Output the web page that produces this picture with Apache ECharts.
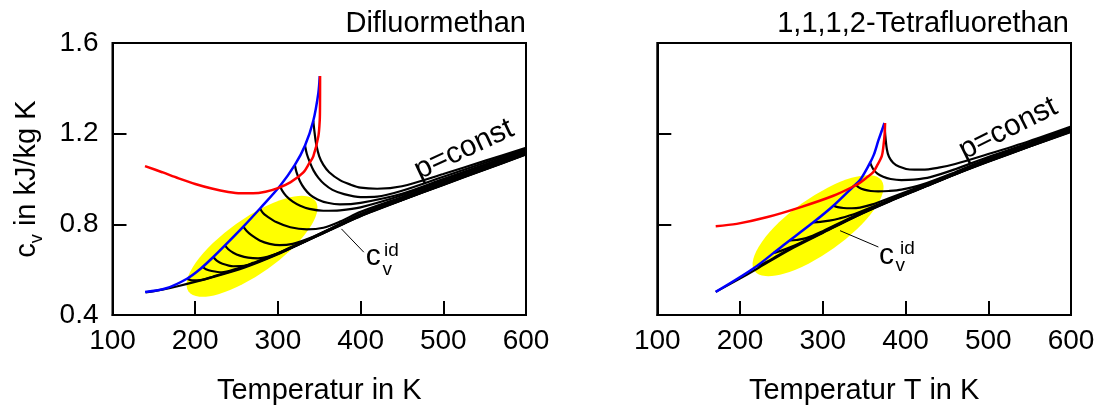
<!DOCTYPE html>
<html>
<head>
<meta charset="utf-8">
<script src="https://cdn.jsdelivr.net/npm/echarts@6/dist/echarts.min.js"></script>
<style>
html, body { margin: 0; padding: 0; background: #fff; }
#chart { width: 1104px; height: 410px; }
</style>
</head>
<body>
<div id="chart"></div>
<script>
// axes
var tempTicks = [100, 200, 300, 400, 500, 600];
var cvTicks = [0.4, 0.8, 1.2, 1.6];

// Difluormethan (left)
var difBlue = [[139.4,0.501],[165,0.518],[190,0.56],[206.5,0.604],[221.9,0.656],[236,0.707],[258.2,0.79],[278.4,0.87],[302.5,0.969],[320.5,1.062],[332.8,1.148],[342.8,1.257],[348.9,1.379],[350.6,1.454]];
var difRed = [[139.3,1.057],[160,1.03],[180,1.003],[200,0.978],[220,0.958],[240,0.943],[255,0.937],[270,0.937],[285,0.944],[300,0.96],[315,0.985],[330.5,1.028],[338,1.07],[342.8,1.1],[348.9,1.188],[350.6,1.26],[350.9,1.32],[351,1.454]];
var difIdeal = [[140,0.5],[160,0.512],[180,0.528],[220,0.566],[260,0.61],[300,0.668],[340,0.736],[380,0.803],[400,0.836],[450,0.906],[500,0.974],[550,1.041],[600,1.108]];
var difP343 = [[342.8,1.257],[344.5,1.2],[346.5,1.15],[350,1.1],[355,1.062],[362,1.03],[375,0.995],[388,0.975],[400,0.962],[420,0.957],[450,0.968],[500,1.022],[550,1.08],[600,1.138]];
var difP333 = [[332.8,1.148],[335,1.11],[338.8,1.072],[343,1.038],[349,1.005],[356,0.978],[366,0.952],[380,0.933],[400,0.92],[420,0.922],[450,0.948],[500,1.01],[550,1.072],[600,1.133]];
var difP320 = [[320.5,1.062],[322.5,1.03],[326.7,0.99],[332,0.958],[339,0.93],[348,0.91],[360,0.895],[375,0.888],[400,0.895],[450,0.935],[500,1.0],[550,1.064],[600,1.128]];
var difP302 = [[302.5,0.969],[305,0.95],[310,0.925],[318,0.9],[327,0.882],[338,0.868],[355,0.86],[375,0.862],[400,0.875],[450,0.928],[500,0.994],[550,1.059],[600,1.124]];
var difP278 = [[278.4,0.87],[282,0.85],[287,0.835],[298,0.81],[315,0.787],[335,0.778],[355,0.785],[375,0.812],[400,0.855],[450,0.92],[500,0.987],[550,1.053],[600,1.119]];
var difP258 = [[258.2,0.79],[262,0.772],[268,0.752],[278,0.729],[290,0.714],[302,0.708],[318,0.714],[338,0.738],[362,0.778],[400,0.846],[450,0.915],[500,0.983],[550,1.05],[600,1.116]];
var difP236 = [[236,0.707],[240,0.69],[246,0.675],[254,0.662],[264,0.653],[276,0.65],[292,0.662],[312,0.693],[340,0.74],[400,0.842],[450,0.912],[500,0.98],[550,1.047],[600,1.114]];
var difP222 = [[221.9,0.656],[226,0.64],[233,0.626],[246,0.615],[262,0.619],[282,0.644],[310,0.686],[340,0.738],[400,0.84],[450,0.91],[500,0.978],[550,1.045],[600,1.112]];
var difP209 = [[209,0.612],[213,0.602],[220,0.594],[232,0.588],[250,0.604],[270,0.63],[300,0.672],[340,0.737],[400,0.838],[450,0.908],[500,0.976],[550,1.043],[600,1.11]];
var difP190 = [[190,0.56],[196,0.553],[206,0.554],[222,0.57],[250,0.601],[280,0.64],[320,0.703],[360,0.77],[400,0.837],[450,0.907],[500,0.975],[550,1.042],[600,1.109]];
var difIsobars = [difIdeal, difP190, difP209, difP222, difP236, difP258, difP278, difP302, difP320, difP333, difP343];

// 1,1,1,2-Tetrafluorethan (right)
var tetBlue = [[170.6,0.502],[216,0.605],[252,0.707],[288.6,0.809],[312.8,0.882],[337,0.967],[345,0.995],[351,1.03],[357.2,1.072],[362,1.11],[367.2,1.17],[371.5,1.215],[374.5,1.247]];
var tetRed = [[170.6,0.792],[196,0.802],[232,0.831],[272.6,0.875],[312.8,0.926],[337,0.967],[345,0.984],[353,1.006],[361,1.03],[365.3,1.057],[371.3,1.101],[373.3,1.145],[374.8,1.2],[375.3,1.247]];
var tetIdeal = [[170.6,0.502],[196,0.553],[220,0.603],[260,0.688],[300,0.762],[340,0.835],[380,0.9],[420,0.96],[460,1.02],[500,1.076],[550,1.143],[600,1.208]];
var tetP375 = [[374.8,1.24],[375.6,1.19],[377.5,1.13],[380,1.098],[385,1.072],[392,1.055],[405,1.042],[420,1.041],[440,1.05],[460,1.066],[500,1.11],[550,1.168],[600,1.232]];
var tetP357 = [[357.2,1.072],[361,1.043],[366,1.024],[373,1.01],[382,1.0],[395,0.995],[410,0.997],[430,1.008],[460,1.043],[500,1.097],[550,1.16],[600,1.228]];
var tetP340 = [[340,0.975],[344,0.962],[350,0.953],[358,0.947],[367,0.945],[380,0.947],[395,0.953],[420,0.975],[460,1.03],[500,1.09],[550,1.155],[600,1.224]];
var tetP313 = [[312.8,0.882],[318,0.876],[325,0.872],[335,0.871],[345,0.874],[360,0.888],[380,0.915],[420,0.97],[460,1.027],[500,1.085],[550,1.152],[600,1.22]];
var tetP290 = [[288.6,0.809],[297,0.811],[308,0.816],[320,0.826],[340,0.848],[380,0.907],[420,0.965],[460,1.024],[500,1.081],[550,1.148],[600,1.216]];
var tetP260 = [[260,0.729],[268,0.731],[280,0.739],[300,0.77],[340,0.84],[380,0.903],[420,0.963],[460,1.022],[500,1.079],[550,1.146],[600,1.213]];
var tetP240 = [[240,0.673],[250,0.684],[270,0.713],[300,0.766],[340,0.838],[380,0.902],[420,0.962],[460,1.021],[500,1.078],[550,1.145],[600,1.211]];
var tetP220 = [[220,0.614],[235,0.64],[260,0.692],[300,0.764],[340,0.836],[380,0.901],[420,0.961],[460,1.021],[500,1.077],[550,1.144],[600,1.21]];
var tetIsobars = [tetIdeal, tetP220, tetP240, tetP260, tetP290, tetP313, tetP340, tetP357, tetP375];

// annotation anchors (data space)
var difSpot = [268.7, 0.703];
var tetSpot = [294.3, 0.794];
var difLeader = [[376.8, 0.78], [403.9, 0.677]];
var tetLeader = [[320.9, 0.772], [367.2, 0.7]];
var difPConst = [525, 1.13];
var tetPConst = [524, 1.222];

var FONT = 'Liberation Sans, Arial, Helvetica, sans-serif';
var chart = echarts.init(document.getElementById('chart'));

function curve(data, idx, color, width, z) {
  return {
    type: 'line', xAxisIndex: idx, yAxisIndex: idx, data: data,
    symbol: 'none', smooth: 0.3, silent: true,
    lineStyle: { color: color, width: width }, z: z
  };
}

function spot(center, idx) {
  return {
    type: 'custom', xAxisIndex: idx, yAxisIndex: idx, data: [center], z: 1, silent: true,
    renderItem: function (params, api) {
      var p = api.coord([api.value(0), api.value(1)]);
      return {
        type: 'circle', x: p[0], y: p[1], rotation: 35.5 * Math.PI / 180,
        scaleX: 78, scaleY: 27.5,
        shape: { cx: 0, cy: 0, r: 1 },
        style: { fill: '#ffff00' }
      };
    }
  };
}

function xAxis(idx, name) {
  return {
    type: 'value', gridIndex: idx, min: tempTicks[0], max: tempTicks[tempTicks.length - 1], interval: 100,
    name: name, nameLocation: 'middle', nameGap: 61,
    nameTextStyle: { fontSize: 29, fontFamily: FONT, color: '#000' },
    axisLine: { lineStyle: { color: '#000', width: 2 } },
    axisTick: { inside: true, length: 14, lineStyle: { color: '#000', width: 2 } },
    axisLabel: { margin: 12, fontSize: 28, fontFamily: FONT, color: '#000' },
    splitLine: { show: false }
  };
}

function yAxis(idx, showLabels) {
  var ax = {
    type: 'value', gridIndex: idx, min: cvTicks[0], max: cvTicks[cvTicks.length - 1], interval: 0.4,
    axisLine: { lineStyle: { color: '#000', width: 2 } },
    axisTick: { inside: true, length: 14, lineStyle: { color: '#000', width: 2 } },
    axisLabel: { show: showLabels, margin: 14, fontSize: 28, fontFamily: FONT, color: '#000',
      formatter: function (v) { return v.toFixed(1); } },
    splitLine: { show: false }
  };
  if (showLabels) {
    ax.name = '{a|c}{b|v}{a| in kJ/kg K}';
    ax.nameLocation = 'middle';
    ax.nameRotate = 90;
    ax.nameGap = 66;
    ax.nameTextStyle = {
      color: '#000',
      rich: {
        a: { fontSize: 29, fontFamily: FONT, color: '#000' },
        b: { fontSize: 18, fontFamily: FONT, color: '#000', padding: [22, 0, 0, 0] }
      }
    };
  }
  return ax;
}

var series = [spot(difSpot, 0), spot(tetSpot, 1)];
difIsobars.forEach(function (d) { series.push(curve(d, 0, '#000', 2.2, 2)); });
tetIsobars.forEach(function (d) { series.push(curve(d, 1, '#000', 2.2, 2)); });
series.push(curve(difBlue, 0, '#0000ff', 2.5, 3));
series.push(curve(tetBlue, 1, '#0000ff', 2.5, 3));
series.push(curve(difRed, 0, '#ff0000', 2.5, 4));
series.push(curve(tetRed, 1, '#ff0000', 2.5, 4));
series.push({ type: 'line', xAxisIndex: 0, yAxisIndex: 0, data: difLeader, symbol: 'none', silent: true, lineStyle: { color: '#000', width: 1 }, z: 5 });
series.push({ type: 'line', xAxisIndex: 1, yAxisIndex: 1, data: tetLeader, symbol: 'none', silent: true, lineStyle: { color: '#000', width: 1 }, z: 5 });

var titleStyle = { fontSize: 29, fontWeight: 'normal', fontFamily: FONT, color: '#000' };

chart.setOption({
  animation: false,
  backgroundColor: '#fff',
  title: [
    { text: 'Difluormethan', right: 578, top: 9, padding: 0, textStyle: titleStyle },
    { text: '1,1,1,2-Tetrafluorethan', right: 35, top: 9, padding: 0, textStyle: titleStyle }
  ],
  grid: [
    { left: 112.5, top: 43, width: 413.5, height: 274, show: true, borderColor: '#000', borderWidth: 2 },
    { left: 657.3, top: 43, width: 413.7, height: 274, show: true, borderColor: '#000', borderWidth: 2 }
  ],
  xAxis: [xAxis(0, 'Temperatur in K'), xAxis(1, 'Temperatur T in K')],
  yAxis: [yAxis(0, true), yAxis(1, false)],
  series: series
});

// text annotations anchored to data points
function px(idx, pt) { return chart.convertToPixel({ gridIndex: idx }, pt); }
function txt(text, x, y, size, extra) {
  var el = { type: 'text', x: x, y: y, silent: true, z: 10,
    style: { text: text, fontSize: size, fontFamily: FONT, fill: '#000', align: 'left', verticalAlign: 'middle' } };
  if (extra) { for (var k in extra) el[k] = extra[k]; }
  return el;
}
var dE = px(0, difLeader[1]);
var tE = px(1, tetLeader[1]);
var dP = px(0, difPConst);
var tP = px(1, tetPConst);
var pc1 = txt('p=const', dP[0], dP[1], 30, { rotation: 25 * Math.PI / 180 });
pc1.style.align = 'center';
var pc2 = txt('p=const', tP[0], tP[1], 30, { rotation: 26.5 * Math.PI / 180 });
pc2.style.align = 'center';

chart.setOption({
  graphic: [
    txt('c', dE[0] + 2, dE[1] + 4.7, 30),
    txt('v', dE[0] + 18.7, dE[1] + 17.4, 19),
    txt('id', dE[0] + 20.2, dE[1] - 1.3, 19),
    txt('c', tE[0] + 0.7, tE[1] + 8.4, 30),
    txt('v', tE[0] + 17.2, tE[1] + 18.4, 19),
    txt('id', tE[0] + 21.7, tE[1] + 2.1, 19),
    pc1, pc2
  ]
});
</script>
</body>
</html>
